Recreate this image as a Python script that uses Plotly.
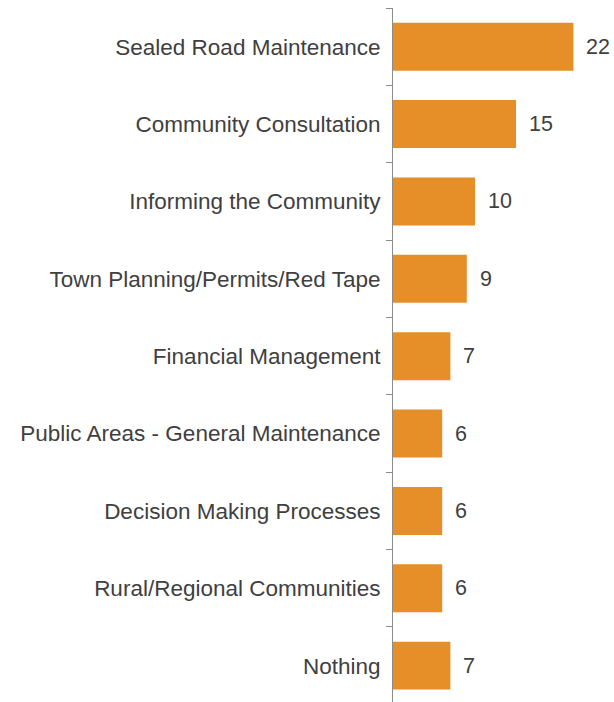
import plotly.graph_objects as go

categories = [
    "Sealed Road Maintenance",
    "Community Consultation",
    "Informing the Community",
    "Town Planning/Permits/Red Tape",
    "Financial Management",
    "Public Areas - General Maintenance",
    "Decision Making Processes",
    "Rural/Regional Communities",
    "Nothing",
]
values = [22, 15, 10, 9, 7, 6, 6, 6, 7]

BAR_COLOR = "#E68E27"
TEXT_COLOR = "#404040"
FONT = "Liberation Sans, Arial, sans-serif"

fig = go.Figure(go.Bar(
    x=values,
    y=categories,
    orientation="h",
    marker=dict(color=BAR_COLOR, line=dict(width=0)),
    hoverinfo="skip",
))

for cat, v in zip(categories, values):
    fig.add_annotation(
        x=v, y=cat, text=str(v),
        xanchor="left", yanchor="middle",
        xshift=11, showarrow=False,
        font=dict(size=21.5, color=TEXT_COLOR, family=FONT),
    )

fig.update_layout(
    width=614,
    height=702,
    margin=dict(l=393, r=0, t=8, b=0, autoexpand=False),
    plot_bgcolor="white",
    paper_bgcolor="white",
    bargap=0.38,
    showlegend=False,
    font=dict(family=FONT, size=22.5, color=TEXT_COLOR),
    xaxis=dict(visible=False, range=[0, 26.95], fixedrange=True),
    yaxis=dict(
        range=[8.47, -0.5],
        showline=True,
        linecolor="#8C8C8C",
        linewidth=1,
        ticks="outside",
        tickson="boundaries",
        ticklen=6,
        tickcolor="#8C8C8C",
        tickwidth=1,
        ticklabelstandoff=7,
        showgrid=False,
        tickfont=dict(size=22.5, color=TEXT_COLOR, family=FONT),
        fixedrange=True,
    ),
)

# drop the browser's default body margin so the figure fills the window exactly
fig.write_html(
    "out.html",
    config={"displayModeBar": False},
    post_script="document.body.style.margin='0';",
)
